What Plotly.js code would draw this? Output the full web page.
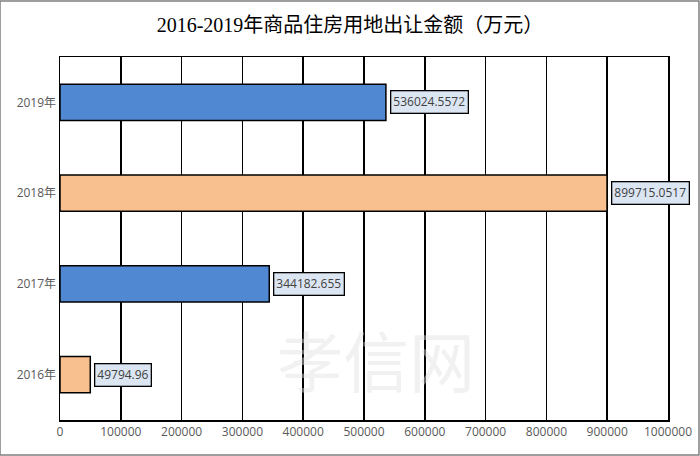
<!DOCTYPE html>
<html><head><meta charset="utf-8">
<script src="https://cdn.plot.ly/plotly-3.0.1.min.js"></script>
<style>html,body{margin:0;padding:0;background:#fff}#c{width:700px;height:456px}</style>
</head><body><div id="c"></div>
<script>
const categories = ['2016年','2017年','2018年','2019年'];
const values = [49794.96, 344182.655, 899715.0517, 536024.5572];
const labels = ['49794.96','344182.655','899715.0517','536024.5572'];
const barColors = ['#F8C08F','#5088D2','#F8C08F','#5088D2'];
const tickVals = [0,100000,200000,300000,400000,500000,600000,700000,800000,900000,1000000];

const trace = {
  type:'bar', orientation:'h', y:categories, x:values,
  marker:{color:barColors, line:{color:'#000', width:1.5}},
  width:0.4, hoverinfo:'skip'
};
const ann = categories.map((c,i)=>({
  x:values[i], y:c, xref:'x', yref:'y', text:labels[i], showarrow:false,
  xanchor:'left', xshift:4, font:{family:'Open Sans, Noto Sans, sans-serif', size:12, color:'#404040'},
  bgcolor:'#DCE6F2', bordercolor:'#000', borderwidth:1.3, borderpad:2
}));
ann.push({xref:'paper', yref:'paper', x:0.52, y:0.17, yanchor:'middle', text:'孝信网', showarrow:false,
  font:{family:'Noto Sans CJK SC', size:66, color:'rgba(225,225,225,0.45)'}});
const layout = {
  width:700, height:456,
  margin:{l:60, r:32, t:57, b:36},
  paper_bgcolor:'#fff', plot_bgcolor:'#fff',
  title:{text:'2016-2019年商品住房用地出让金额（万元）', x:0.5, xanchor:'center', y:0.945, yanchor:'middle',
    font:{family:'Liberation Serif, Noto Sans CJK SC, serif', size:20, color:'#000'}},
  xaxis:{range:[0,1000000], tickvals:tickVals, ticktext:tickVals.map(String), showgrid:true, gridcolor:'#000', gridwidth:1.5,
    zeroline:false, showline:true, linecolor:'#000', linewidth:1.5, mirror:true, ticks:'',
    tickfont:{family:'Open Sans, Noto Sans, sans-serif', size:12, color:'#595959'}, fixedrange:true},
  yaxis:{showgrid:false, zeroline:false, showline:true, linecolor:'#000', linewidth:1.5, mirror:true, ticks:'', ticklen:0,
    tickfont:{family:'Open Sans, Noto Sans CJK SC, sans-serif', size:12, color:'#595959'}, categoryorder:'array', categoryarray:categories},
  bargap:0.6,
  showlegend:false,
  annotations:ann,
  shapes:[{type:'rect', xref:'paper', yref:'paper', x0:-60/608, x1:1+31/608, y0:-35/363, y1:1+56/363,
    line:{color:'#7f7f7f', width:1.5}}]
};
Plotly.newPlot('c',[trace],layout,{displayModeBar:false, staticPlot:true});
</script></body></html>
